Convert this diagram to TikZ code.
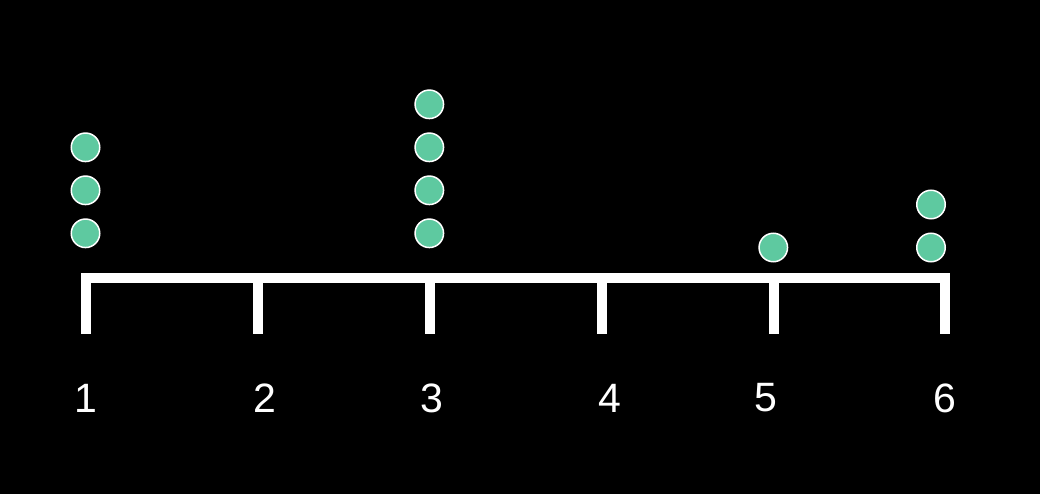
\documentclass[tikz,border=0pt]{standalone}
\usepackage{fontspec}
\setmainfont{Liberation Sans}
\usetikzlibrary{positioning,calc}
\definecolor{dotgreen}{RGB}{94,201,160}

\begin{document}
\begin{tikzpicture}[x=1pt, y=-1pt, node distance=13pt,
  dot/.style={circle, draw=white, line width=1.5pt, fill=dotgreen, inner sep=0pt, minimum size=28.5pt},
  axisline/.style={draw=white, line width=10pt},
  ticklabel/.style={text=white, font=\fontsize{41}{41}\selectfont, inner sep=0pt}]

% BACKGROUND
\fill[black] (0,0) rectangle (1040,494);
\useasboundingbox (0,0) rectangle (1040,494);

% AXIS
\coordinate (t1) at (86,277.5);
\coordinate (t2) at (257.5,277.5);
\coordinate (t3) at (429.5,277.5);
\coordinate (t4) at (601.5,277.5);
\coordinate (t5) at (773.5,277.5);
\coordinate (t6) at (945,277.5);

\draw[axisline, line cap=rect] (t1) -- (t6);
\draw[axisline] (t1) -- ++(0,56);
\draw[axisline] (t2) -- ++(0,56);
\draw[axisline] (t3) -- ++(0,56);
\draw[axisline] (t4) -- ++(0,56);
\draw[axisline] (t5) -- ++(0,56);
\draw[axisline] (t6) -- ++(0,56);

% LABELS
\node[ticklabel] (l1) at (86,398) {1};
\node[ticklabel] (l2) at (265,398) {2};
\node[ticklabel] (l3) at (432,398) {3};
\node[ticklabel] (l4) at (610,398) {4};
\node[ticklabel] (l5) at (766,398) {5};
\node[ticklabel] (l6) at (945,398) {6};

% DOTS
\node[dot] (d1a) at (85.5,233.3) {};
\node[dot, above=of d1a] (d1b) {};
\node[dot, above=of d1b] (d1c) {};

\node[dot] (d3a) at (429.3,233.3) {};
\node[dot, above=of d3a] (d3b) {};
\node[dot, above=of d3b] (d3c) {};
\node[dot, above=of d3c] (d3d) {};

\node[dot] (d5a) at (773.3,247.5) {};

\node[dot] (d6a) at (931,247.5) {};
\node[dot, above=of d6a] (d6b) {};

\end{tikzpicture}
\end{document}
